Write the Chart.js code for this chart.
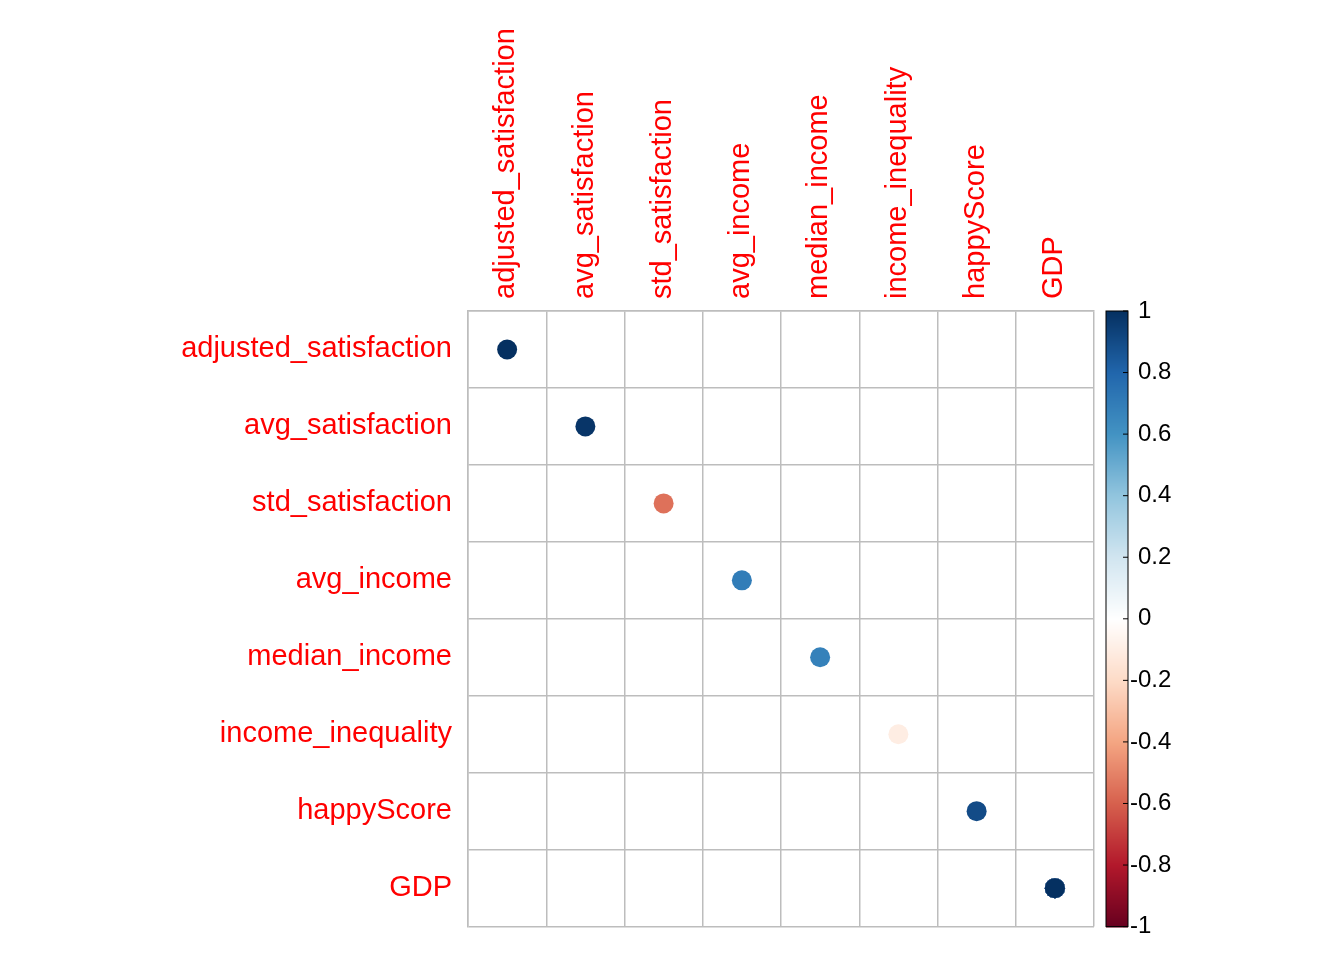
<!DOCTYPE html>
<html>
<head>
<meta charset="utf-8">
<script src="https://cdn.jsdelivr.net/npm/chart.js@4/dist/chart.umd.min.js"></script>
<style>
  html, body { margin: 0; background: #fff; }
  #wrap { width: 1344px; height: 960px; }
</style>
</head>
<body>
<div id="wrap"><canvas id="corr" width="1344" height="960"></canvas></div>
<script>
// Variables (same order on both axes)
const vars = ['adjusted_satisfaction', 'avg_satisfaction', 'std_satisfaction', 'avg_income',
  'median_income', 'income_inequality', 'happyScore', 'GDP'];

// Correlation matrix rows
const rowAdjSat   = [1.00, 0.98, -0.55, 0.70, 0.68, -0.10, 0.90, 0.72];
const rowAvgSat   = [0.98, 1.00, -0.30, 0.65, 0.62, -0.05, 0.88, 0.75];
const rowStdSat   = [-0.55, -0.30, 1.00, -0.45, -0.48, 0.20, -0.42, -0.20];
const rowAvgInc   = [0.70, 0.65, -0.45, 0.98, 0.97, -0.35, 0.78, 0.82];
const rowMedInc   = [0.68, 0.62, -0.48, 0.97, 1.00, -0.45, 0.76, 0.80];
const rowIneq     = [-0.10, -0.05, 0.20, -0.35, -0.45, 1.00, -0.15, -0.30];
const rowHappy    = [0.90, 0.88, -0.42, 0.78, 0.76, -0.15, 1.00, 0.78];
const rowGDP      = [0.72, 0.75, -0.20, 0.82, 0.80, -0.30, 0.78, 1.00];
const matrix = [rowAdjSat, rowAvgSat, rowStdSat, rowAvgInc, rowMedInc, rowIneq, rowHappy, rowGDP];

// Colour bar tick labels
const cbTicks = [1, 0.8, 0.6, 0.4, 0.2, 0, -0.2, -0.4, -0.6, -0.8, -1];

// RdBu palette (from -1 to 1)
const palette = ['#67001F', '#B2182B', '#D6604D', '#F4A582', '#FDDBC7', '#FFFFFF',
  '#D1E5F0', '#92C5DE', '#4393C3', '#2166AC', '#053061'];

function hexToRgb(h) {
  return [parseInt(h.slice(1, 3), 16), parseInt(h.slice(3, 5), 16), parseInt(h.slice(5, 7), 16)];
}
function corrColor(v) {
  const t = (v + 1) / 2 * (palette.length - 1);
  const i = Math.min(Math.floor(t), palette.length - 2);
  const f = t - i;
  const a = hexToRgb(palette[i]), b = hexToRgb(palette[i + 1]);
  const c = a.map((x, k) => Math.round(x + (b[k] - x) * f));
  return `rgb(${c[0]},${c[1]},${c[2]})`;
}

const points = [];
const values = [];
matrix.forEach((row, r) => {
  row.forEach((v, c) => {
    points.push({ x: c, y: r, r: 10 });
    values.push(v);
  });
});

function cellRadius(chart, v) {
  const area = chart.chartArea;
  if (!area) return 0;
  const cell = (area.right - area.left) / vars.length;
  return cell / 2 * 0.92 * Math.sqrt(Math.abs(v));
}

// Colour bar drawn next to the plot area
const colorBar = {
  id: 'colorBar',
  afterDraw(chart) {
    const { ctx, chartArea } = chart;
    const x0 = chartArea.right + 12, w = 22;
    const top = chartArea.top, bottom = chartArea.bottom;
    const h = bottom - top;
    for (let i = 0; i < h; i++) {
      const v = 1 - 2 * i / h;
      ctx.fillStyle = corrColor(v);
      ctx.fillRect(x0, top + i, w, 1.5);
    }
    ctx.strokeStyle = '#000';
    ctx.lineWidth = 1;
    ctx.strokeRect(x0, top, w, h);
    ctx.font = '24px Arial, "Liberation Sans", sans-serif';
    ctx.fillStyle = '#000';
    ctx.textBaseline = 'middle';
    ctx.textAlign = 'left';
    cbTicks.forEach(t => {
      const y = top + (1 - t) / 2 * h;
      ctx.beginPath();
      ctx.moveTo(x0 + w - 5, y);
      ctx.lineTo(x0 + w, y);
      ctx.stroke();
      const off = t >= 0 ? 10 : 2;
      ctx.fillText(String(t), x0 + w + off, y);
    });
  }
};

new Chart(document.getElementById('corr'), {
  type: 'bubble',
  data: {
    datasets: [{
      data: points,
      backgroundColor: ctx => (ctx.dataIndex != null && values[ctx.dataIndex] != null)
        ? corrColor(values[ctx.dataIndex]) : '#fff',
      borderWidth: 0,
      radius: ctx => (ctx.dataIndex != null && values[ctx.dataIndex] != null)
        ? cellRadius(ctx.chart, values[ctx.dataIndex]) : 0,
      hoverRadius: 0
    }]
  },
  options: {
    responsive: false,
    animation: false,
    layout: { padding: { left: 0, right: 250, top: 0, bottom: 22 } },
    plugins: { legend: { display: false }, tooltip: { enabled: false } },
    scales: {
      x: {
        type: 'category',
        labels: vars,
        position: 'top',
        offset: true,
        afterFit: s => { s.height = 311; },
        grid: { offset: true, color: '#bdbdbd', lineWidth: 1.5, drawTicks: false },
        border: { color: '#bdbdbd', width: 1.5 },
        ticks: {
          color: '#ff0000',
          font: { size: 29, family: 'Arial, "Liberation Sans", sans-serif' },
          maxRotation: 90, minRotation: 90,
          labelOffset: 34,
          padding: 12
        }
      },
      y: {
        type: 'category',
        labels: vars,
        offset: true,
        afterFit: s => { s.width = 468; },
        grid: { offset: true, color: '#bdbdbd', lineWidth: 1.5, drawTicks: false },
        border: { color: '#bdbdbd', width: 1.5 },
        ticks: {
          color: '#ff0000',
          font: { size: 29, family: 'Arial, "Liberation Sans", sans-serif' },
          padding: 16
        }
      }
    }
  },
  plugins: [colorBar]
});
</script>
</body>
</html>
